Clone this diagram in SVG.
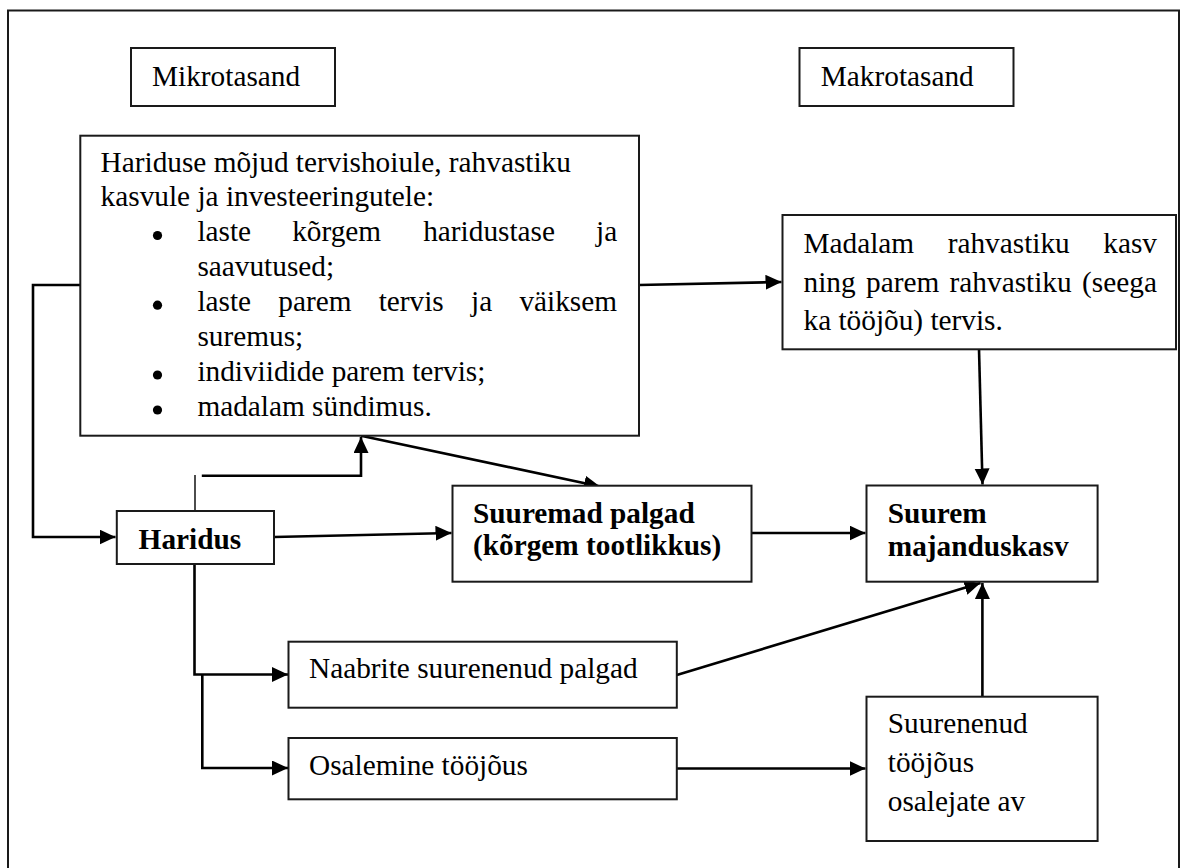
<svg xmlns="http://www.w3.org/2000/svg" width="1187" height="868" viewBox="0 0 1187 868">
<style>
.box{fill:#fff;stroke:#1a1a1a;stroke-width:2}
.t{font-family:"Liberation Serif","Times New Roman",serif;font-size:29.3px;fill:#000}
.b{font-weight:bold}
.c{fill:none;stroke:#000;stroke-width:2.6}
.thin{fill:none;stroke:#000;stroke-width:1.4}
</style>
<defs>
<marker id="ah" markerUnits="userSpaceOnUse" markerWidth="17" markerHeight="16" refX="16" refY="7.5" orient="auto">
<path d="M0,0 L16,7.5 L0,15 z" fill="#000"/>
</marker>
</defs>
<rect x="0" y="0" width="1187" height="868" fill="#fff"/>
<rect id="frame" x="8" y="10.5" width="1171" height="880" fill="none" stroke="#1a1a1a" stroke-width="2"/>

<g id="connectors">
<polyline class="c" points="80,285 33,285 33,537 115.5,537" marker-end="url(#ah)"/>
<line class="c" x1="639" y1="285" x2="781.5" y2="282" marker-end="url(#ah)"/>
<line class="c" x1="979" y1="349" x2="982.5" y2="484.5" marker-end="url(#ah)"/>
<line class="thin" x1="195" y1="475" x2="195" y2="511"/>
<polyline class="c" points="201.8,475.7 361,475.7 361,437" marker-end="url(#ah)"/>
<line class="c" x1="361" y1="435.7" x2="600" y2="486.5" marker-end="url(#ah)"/>
<line class="c" x1="274" y1="537" x2="451.5" y2="533" marker-end="url(#ah)"/>
<line class="c" x1="751.5" y1="533" x2="865.5" y2="533" marker-end="url(#ah)"/>
<polyline class="c" points="194.5,564 194.5,674.5 288,674.5" marker-end="url(#ah)"/>
<polyline class="c" points="202.3,674.5 202.3,768 288,768" marker-end="url(#ah)"/>
<line class="c" x1="676.8" y1="675" x2="980.5" y2="583" marker-end="url(#ah)"/>
<line class="c" x1="676.8" y1="768.5" x2="865.5" y2="768.5" marker-end="url(#ah)"/>
<line class="c" x1="982.4" y1="696.7" x2="982.4" y2="583" marker-end="url(#ah)"/>
</g>

<g id="mikrotasand">
<rect class="box" x="131" y="48" width="204" height="58"/>
<text class="t" x="152" y="86">Mikrotasand</text>
</g>

<g id="makrotasand">
<rect class="box" x="799.5" y="48" width="214" height="58"/>
<text class="t" x="820.8" y="86">Makrotasand</text>
</g>

<g id="mojud">
<rect class="box" x="80.3" y="135.7" width="558.7" height="300"/>
<text class="t" x="100.6" y="171.5">Hariduse mõjud tervishoiule, rahvastiku</text>
<text class="t" x="100.6" y="206.4">kasvule ja investeeringutele:</text>
<circle cx="157.5" cy="235.5" r="4.6" fill="#000"/>
<text class="t" y="241.3"><tspan x="197.4">laste</tspan><tspan x="292.2">kõrgem</tspan><tspan x="423.2">haridustase</tspan><tspan x="596">ja</tspan></text>
<text class="t" x="197.4" y="276.2">saavutused;</text>
<circle cx="157.5" cy="305.2" r="4.6" fill="#000"/>
<text class="t" y="311.1"><tspan x="197.4">laste</tspan><tspan x="278.3">parem</tspan><tspan x="378.7">tervis</tspan><tspan x="471">ja</tspan><tspan x="519.4">väiksem</tspan></text>
<text class="t" x="197.4" y="346">suremus;</text>
<circle cx="157.5" cy="375" r="4.6" fill="#000"/>
<text class="t" x="197.4" y="380.9">indiviidide parem tervis;</text>
<circle cx="157.5" cy="410" r="4.6" fill="#000"/>
<text class="t" x="197.4" y="415.8">madalam sündimus.</text>
</g>

<g id="madalam">
<rect class="box" x="782.5" y="215" width="393.5" height="134.3"/>
<text class="t" y="253"><tspan x="803.5">Madalam</tspan><tspan x="947.7">rahvastiku</tspan><tspan x="1103.3">kasv</tspan></text>
<text class="t" y="291.5"><tspan x="803.5">ning</tspan><tspan x="866">parem</tspan><tspan x="949.6">rahvastiku</tspan><tspan x="1082.1">(seega</tspan></text>
<text class="t" x="803.5" y="329.5">ka tööjõu) tervis.</text>
</g>

<g id="haridus">
<rect class="box" x="116.8" y="511" width="157.2" height="53"/>
<text class="t b" x="138.6" y="548.5">Haridus</text>
</g>

<g id="suuremad-palgad">
<rect class="box" x="452.5" y="485.7" width="299" height="96"/>
<text class="t b" x="473" y="522.5">Suuremad palgad</text>
<text class="t b" x="473" y="555">(kõrgem tootlikkus)</text>
</g>

<g id="majanduskasv">
<rect class="box" x="866.5" y="485.5" width="231.1" height="96.2"/>
<text class="t b" x="887.8" y="522.5">Suurem</text>
<text class="t b" x="887.8" y="555.5">majanduskasv</text>
</g>

<g id="naabrite">
<rect class="box" x="288.5" y="641.7" width="388.3" height="66"/>
<text class="t" x="309" y="678">Naabrite suurenenud palgad</text>
</g>

<g id="osalemine">
<rect class="box" x="288.5" y="738" width="388.3" height="61.3"/>
<text class="t" x="309" y="775">Osalemine tööjõus</text>
</g>

<g id="suurenenud">
<rect class="box" x="866.5" y="696.7" width="231.1" height="144.3"/>
<text class="t" x="887.8" y="733.3">Suurenenud</text>
<text class="t" x="887.8" y="772">tööjõus</text>
<text class="t" x="887.8" y="810.7">osalejate av</text>
</g>
</svg>
